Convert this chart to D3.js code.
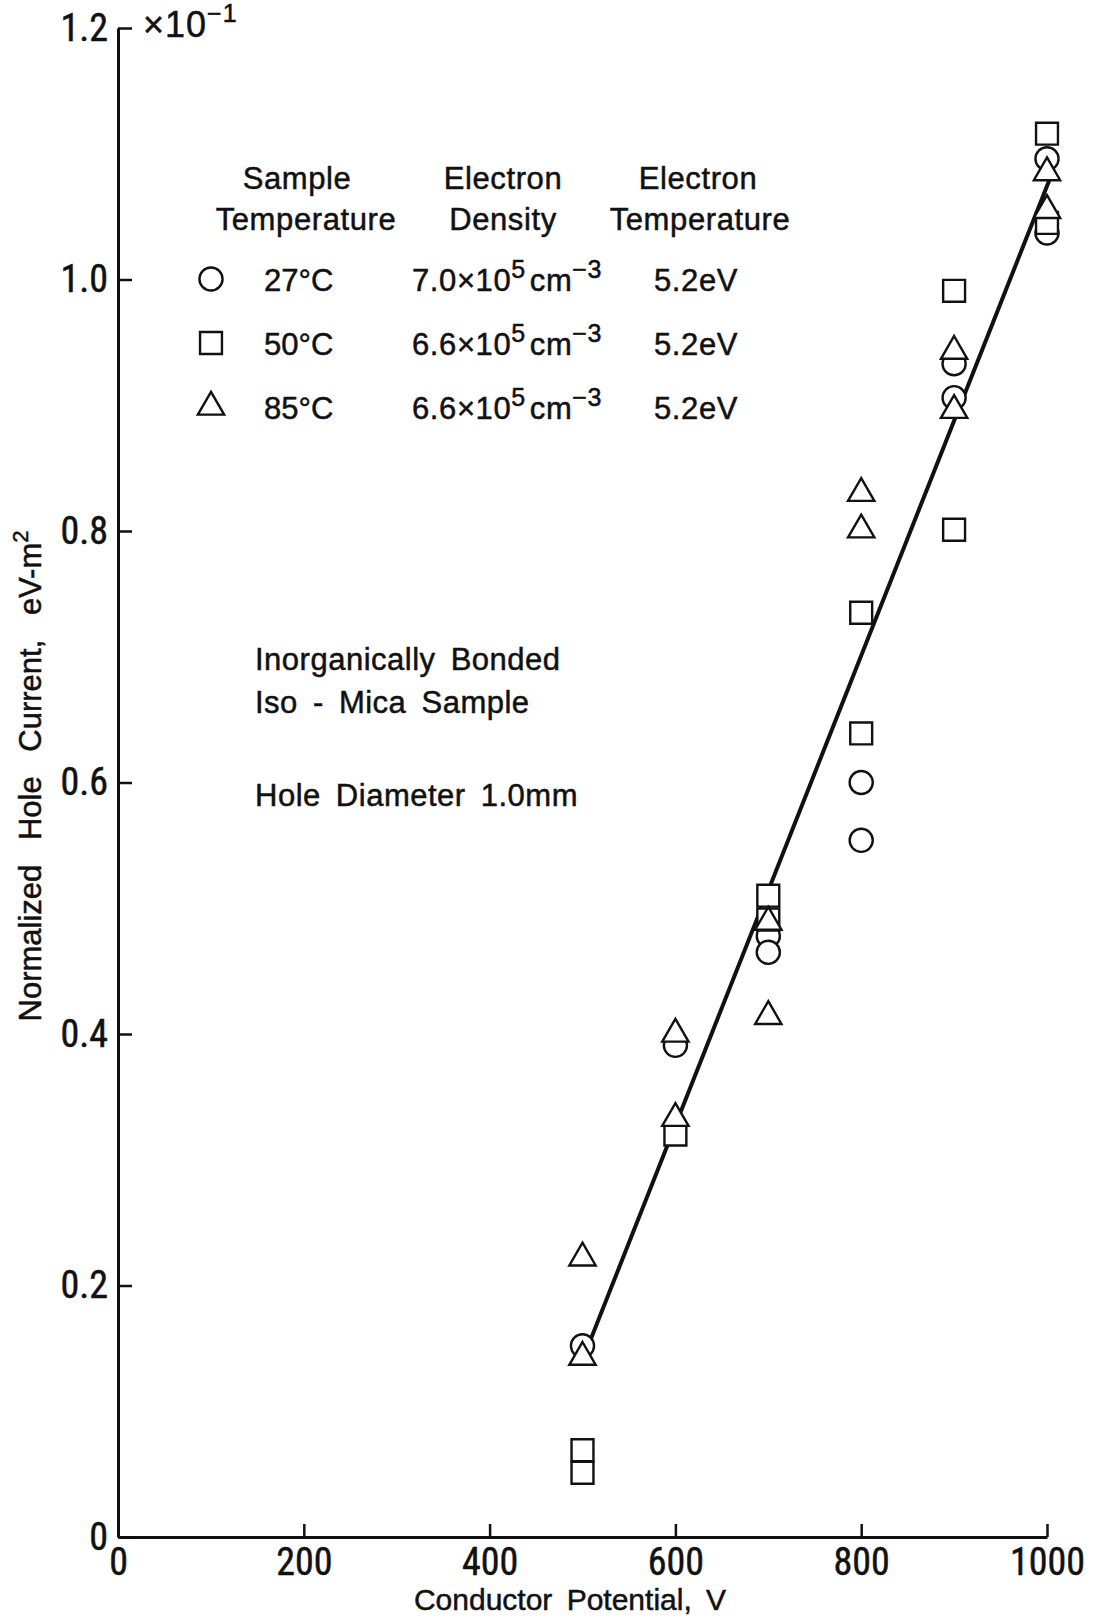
<!DOCTYPE html>
<html>
<head>
<meta charset="utf-8">
<script src="https://cdn.jsdelivr.net/npm/d3@7"></script>
<style>
  body { margin: 0; background: #fff; }
  svg text { font-family: "Liberation Sans", Arial, sans-serif; fill: #111; stroke: #111; stroke-width: 0.5px; }
</style>
</head>
<body>
<svg id="chart"></svg>
<script>
// valores (corrente em unidades de 1e-1)
const xTicks = [0, 200, 400, 600, 800, 1000];
const yTicks = [0, 0.2, 0.4, 0.6, 0.8, 1.0, 1.2];
const yTickLabels = ['0', '0.2', '0.4', '0.6', '0.8', '1.0', '1.2'];

const circleX = [500, 600, 700, 700, 800, 800, 900, 900, 1000, 1000];
const circleY = [0.152, 0.391, 0.478, 0.465, 0.600, 0.554, 0.933, 0.906, 1.096, 1.037];

const squareX = [500, 500, 600, 700, 700, 800, 800, 900, 900, 1000, 1000];
const squareY = [0.069, 0.051, 0.320, 0.510, 0.491, 0.735, 0.639, 0.991, 0.801, 1.116, 1.045];

const triangleX = [500, 500, 600, 600, 700, 700, 800, 800, 900, 900, 1000, 1000];
const triangleY = [0.222, 0.143, 0.400, 0.333, 0.489, 0.414, 0.830, 0.801, 0.943, 0.896, 1.085, 1.055];

const fitX = [505, 1003];
const fitY = [0.150, 1.080];

const legendTemps = ['27°C', '50°C', '85°C'];
const legendDensityMant = ['7.0', '6.6', '6.6'];
const legendElecTemp = ['5.2eV', '5.2eV', '5.2eV'];

const W = 1097, H = 1621;
const narrow = '"Liberation Sans Narrow", "Roboto Condensed", "Liberation Sans", sans-serif';

const svg = d3.select('#chart').attr('width', W).attr('height', H);

const x = d3.scaleLinear().domain([0, 1000]).range([118, 1047]);
const y = d3.scaleLinear().domain([0, 1.2]).range([1537, 28]);

// eixos
const xAxis = d3.axisBottom(x).tickValues(xTicks).tickSizeInner(-13).tickSizeOuter(0).tickPadding(11)
    .tickFormat(d3.format('d'));
const gx = svg.append('g').attr('transform', `translate(0, ${y(0)})`).call(xAxis);

const yAxis = d3.axisLeft(y).tickValues(yTicks).tickSizeInner(-14).tickSizeOuter(0).tickPadding(10)
    .tickFormat((d, i) => yTickLabels[i]);
const gy = svg.append('g').attr('transform', `translate(${x(0)}, 0)`).call(yAxis);

svg.selectAll('.domain').attr('stroke', '#111').attr('stroke-width', 3);
svg.selectAll('.tick line').attr('stroke', '#111').attr('stroke-width', 2.5);
svg.selectAll('.tick text')
    .style('font-family', narrow)
    .style('font-size', '38px')
    .attr('fill', '#111');
gx.selectAll('.tick text').attr('dy', '0.72em');

// fator x10^-1
const mult = svg.append('text').attr('x', 143).attr('y', 37)
    .style('font-size', '36px').style('letter-spacing', '1px');
mult.append('tspan').text('×10');
mult.append('tspan').attr('dy', -15).style('font-size', '25px').text('−1');

// titulos dos eixos
svg.append('text')
    .attr('x', 570).attr('y', 1610)
    .attr('text-anchor', 'middle')
    .style('font-size', '30px')
    .style('word-spacing', '6px')
    .text('Conductor Potential, V');

const yt = svg.append('text')
    .attr('transform', 'translate(41, 776) rotate(-90)')
    .attr('text-anchor', 'middle')
    .style('font-size', '31px')
    .style('word-spacing', '16px');
yt.append('tspan').text('Normalized Hole Current, eV-m');
yt.append('tspan').attr('dy', -13).style('font-size', '22px').text('2');

// reta ajustada
const fitData = fitX.map((v, i) => ({ x: v, y: fitY[i] }));
svg.append('path')
    .datum(fitData)
    .attr('fill', 'none')
    .attr('stroke', '#111')
    .attr('stroke-width', 4)
    .attr('d', d3.line().x(d => x(d.x)).y(d => y(d.y)));

// simbolos
const sym = {
    circle: d3.symbol().type(d3.symbolCircle).size(420),
    square: d3.symbol().type(d3.symbolSquare).size(480),
    triangle: d3.symbol().type(d3.symbolTriangle).size(300)
};

function drawSeries(xs, ys, kind) {
    svg.append('g')
        .selectAll('path')
        .data(xs.map((v, i) => ({ x: v, y: ys[i] })))
        .enter().append('path')
        .attr('d', sym[kind])
        .attr('transform', d => `translate(${x(d.x)}, ${y(d.y)})`)
        .attr('fill', '#fff')
        .attr('stroke', '#111')
        .attr('stroke-width', 2.4);
}

drawSeries(circleX, circleY, 'circle');
drawSeries(squareX, squareY, 'square');
drawSeries(triangleX, triangleY, 'triangle');

// legenda
const headers = [
    { t: 'Sample', x: 297, y: 189 }, { t: 'Temperature', x: 306, y: 230 },
    { t: 'Electron', x: 503, y: 189 }, { t: 'Density', x: 503, y: 230 },
    { t: 'Electron', x: 698, y: 189 }, { t: 'Temperature', x: 700, y: 230 }
];
svg.append('g').selectAll('text')
    .data(headers).enter().append('text')
    .attr('x', d => d.x).attr('y', d => d.y)
    .attr('text-anchor', 'middle')
    .style('font-size', '31px')
    .style('letter-spacing', '0.6px')
    .text(d => d.t);

const kinds = ['circle', 'square', 'triangle'];
const rowY = [279, 343, 407];
kinds.forEach((k, i) => {
    svg.append('path')
        .attr('d', sym[k])
        .attr('transform', `translate(211, ${rowY[i]})`)
        .attr('fill', '#fff')
        .attr('stroke', '#111')
        .attr('stroke-width', 2.4);

    svg.append('text').attr('x', 264).attr('y', rowY[i] + 12)
        .style('font-size', '31px').text(legendTemps[i]);

    const dens = svg.append('text').attr('x', 412).attr('y', rowY[i] + 12)
        .style('font-size', '31px').style('letter-spacing', '0.6px');
    dens.append('tspan').text(legendDensityMant[i] + '×10');
    dens.append('tspan').attr('dy', -13).style('font-size', '25px').text('5');
    dens.append('tspan').attr('dy', 13).attr('dx', 4).text('cm');
    dens.append('tspan').attr('dy', -13).style('font-size', '25px').text('−3');

    svg.append('text').attr('x', 654).attr('y', rowY[i] + 12)
        .style('font-size', '31px').style('letter-spacing', '0.6px').text(legendElecTemp[i]);
});

// anotacoes
const notes = [
    { t: 'Inorganically Bonded', y: 670 },
    { t: 'Iso - Mica Sample', y: 713 },
    { t: 'Hole Diameter 1.0mm', y: 806 }
];
svg.append('g').selectAll('text')
    .data(notes).enter().append('text')
    .attr('x', 255).attr('y', d => d.y)
    .style('font-size', '31px')
    .style('word-spacing', '6px')
    .style('letter-spacing', '0.5px')
    .text(d => d.t);
</script>
</body>
</html>
